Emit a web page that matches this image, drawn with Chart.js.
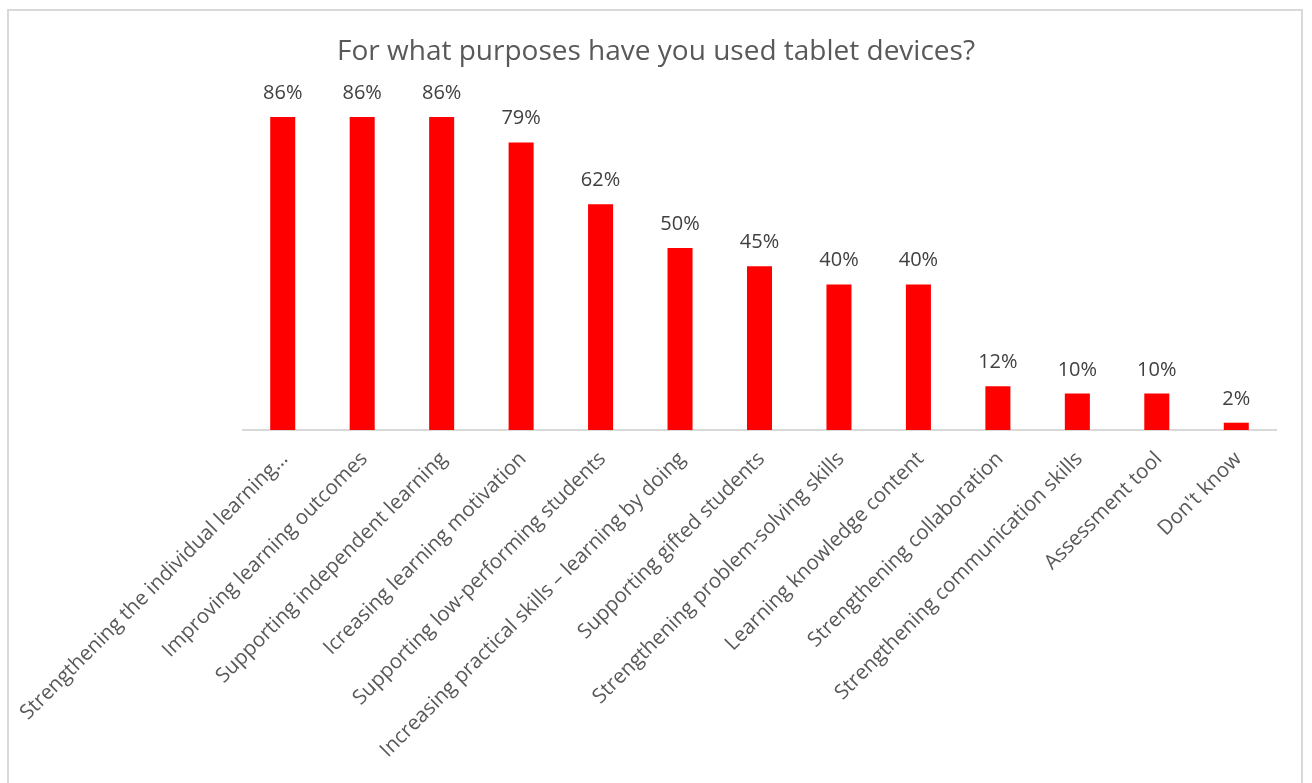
<!DOCTYPE html>
<html>
<head>
<meta charset="utf-8">
<script src="https://cdn.jsdelivr.net/npm/chart.js@4.4.1/dist/chart.umd.min.js"></script>
<style>
  html, body { margin: 0; padding: 0; background: #fff; }
  .marco { position: absolute; left: 7px; top: 9px; width: 1296px; height: 800px; border: 2px solid #d9d9d9; box-sizing: border-box; }
  #grafico { position: absolute; left: 0; top: 0; }
</style>
</head>
<body>
<div class="marco"></div>
<canvas id="grafico" width="1312" height="783"></canvas>
<script>
// Datos de la encuesta
const titulo = 'For what purposes have you used tablet devices?';
const categorias = [
  'Strengthening the individual learning…',
  'Improving learning outcomes',
  'Supporting independent learning',
  'Icreasing learning motivation',
  'Supporting low-performing students',
  'Increasing practical skills – learning by doing',
  'Supporting gifted students',
  'Strengthening problem-solving skills',
  'Learning knowledge content',
  'Strengthening collaboration',
  'Strengthening communication skills',
  'Assessment tool',
  "Don't know"
];
const porcentajes = [86, 86, 86, 79, 62, 50, 45, 40, 40, 12, 10, 10, 2];

const fuente = '"Open Sans", "DejaVu Sans", sans-serif';

// Etiquetas de valor encima de cada barra
const etiquetasValor = {
  id: 'etiquetasValor',
  afterDatasetsDraw(chart) {
    const { ctx } = chart;
    const meta = chart.getDatasetMeta(0);
    ctx.save();
    ctx.font = '20px ' + fuente;
    ctx.fillStyle = '#404040';
    ctx.textAlign = 'center';
    ctx.textBaseline = 'alphabetic';
    meta.data.forEach((barra, i) => {
      ctx.fillText(porcentajes[i] + '%', barra.x, barra.y - 18);
    });
    ctx.restore();
  }
};

new Chart(document.getElementById('grafico').getContext('2d'), {
  type: 'bar',
  data: {
    labels: categorias,
    datasets: [{
      data: porcentajes,
      backgroundColor: '#ff0000',
      borderWidth: 0,
      categoryPercentage: 1,
      barPercentage: 0.315
    }]
  },
  options: {
    responsive: false,
    animation: false,
    layout: { padding: 0 },
    plugins: {
      legend: { display: false },
      tooltip: { enabled: false },
      title: {
        display: true,
        text: titulo,
        color: '#595959',
        font: { family: fuente, size: 28, weight: 'normal', lineHeight: 1 },
        padding: { top: 38, bottom: 0 }
      }
    },
    scales: {
      x: {
        grid: { display: false },
        border: { display: true, color: '#d9d9d9', width: 2 },
        ticks: {
          color: '#595959',
          font: { family: fuente, size: 20.5 },
          minRotation: 45,
          maxRotation: 45,
          autoSkip: false,
          padding: 9,
          labelOffset: 2
        },
        // área del gráfico fija: izquierda 243, derecha 1276, eje en y=430
        afterFit(scale) {
          scale.height = 353;
          scale.paddingLeft = 243;
          scale.paddingRight = 36;
        }
      },
      y: {
        display: false,
        min: 0,
        max: 100
      }
    }
  },
  plugins: [etiquetasValor]
});
</script>
</body>
</html>
